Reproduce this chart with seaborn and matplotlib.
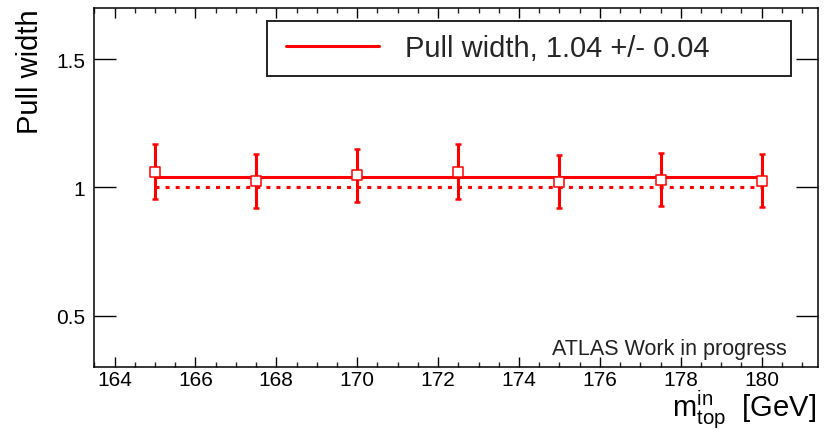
import matplotlib
matplotlib.use("Agg")
import matplotlib.pyplot as plt
from matplotlib.patches import Rectangle
from matplotlib.ticker import FixedLocator, MultipleLocator, FormatStrFormatter
import seaborn as sns
import pandas as pd

# Input top-quark masses [GeV] and fitted pull widths with uncertainties
mass_in = [165.0, 167.5, 170.0, 172.5, 175.0, 177.5, 180.0]
pull_width = [1.062, 1.025, 1.047, 1.062, 1.022, 1.031, 1.026]
pull_width_err = [0.106, 0.106, 0.105, 0.106, 0.103, 0.103, 0.104]

# Constant fit over all mass points and the ideal reference value
fit_value = 1.04
fit_error = 0.04
reference_value = 1.0

y_ticks = [0.5, 1.0, 1.5]
x_ticks = [164, 166, 168, 170, 172, 174, 176, 178, 180]

sns.set_theme(style="ticks")
plt.rcParams["font.family"] = ["Liberation Sans", "DejaVu Sans"]
plt.rcParams["mathtext.fontset"] = "custom"
plt.rcParams["mathtext.rm"] = "Liberation Sans"
plt.rcParams["mathtext.it"] = "Liberation Sans"

fig = plt.figure(figsize=(8.3, 4.31), dpi=100)
ax = fig.add_axes([0.1136, 0.1462, 0.8723, 0.8329])

df = pd.DataFrame({"mass": mass_in, "width": pull_width, "err": pull_width_err})
span = [min(mass_in), max(mass_in)]
fit_df = pd.DataFrame({"mass": span, "width": [fit_value] * 2})
ref_df = pd.DataFrame({"mass": span, "width": [reference_value] * 2})

red = "#ff0000"

sns.lineplot(data=ref_df, x="mass", y="width", ax=ax, color=red, lw=2.2,
             linestyle=(0, (1.3, 2.0)), dash_capstyle="butt", legend=False, zorder=2)
sns.lineplot(data=fit_df, x="mass", y="width", ax=ax, color=red, lw=2.2,
             legend=False, zorder=2)
fit_line = ax.lines[-1]

ax.errorbar(df["mass"], df["width"], yerr=df["err"], fmt="none", ecolor=red,
            elinewidth=2.2, capsize=2.4, capthick=1.8, zorder=3)
sns.scatterplot(data=df, x="mass", y="width", ax=ax, marker="s", s=52,
                facecolor="white", edgecolor=red, linewidth=1.1, zorder=4,
                legend=False)

ax.set_xlim(163.5, 181.4)
ax.set_ylim(0.3, 1.7)

ax.xaxis.set_major_locator(FixedLocator(x_ticks))
ax.xaxis.set_minor_locator(MultipleLocator(0.5))
ax.yaxis.set_major_locator(FixedLocator(y_ticks))
ax.yaxis.set_major_formatter(FormatStrFormatter("%g"))
ax.xaxis.set_major_formatter(FormatStrFormatter("%g"))

ax.tick_params(axis="x", which="major", direction="in", length=7.5, width=1.0,
               top=True, bottom=True, labelsize=15, pad=2.5, colors="black")
ax.tick_params(axis="x", which="minor", direction="in", length=3.8, width=1.0,
               top=True, bottom=True)
ax.tick_params(axis="y", which="major", direction="in", length=16, width=1.0,
               left=True, right=True, labelsize=15, pad=6.5, colors="black")
ax.tick_params(axis="y", which="minor", left=False, right=False)
for sp in ax.spines.values():
    sp.set_visible(True)
    sp.set_linewidth(1.1)
    sp.set_color("black")

ax.set_xlabel("")
ax.set_ylabel("")

# Axis titles, right/top aligned at the ends of the axes
fig.text(0.0361, 0.979, "Pull width", rotation=90, ha="center", va="top",
         fontsize=21, color="black")
fig.text(0.984, 0.032, r"$\mathrm{m}_{\mathrm{top}}^{\mathrm{in}}$  [GeV]",
         ha="right", va="baseline", fontsize=21, color="black")

fig.text(0.948, 0.1763, "ATLAS Work in progress", ha="right", va="baseline",
         fontsize=15.5, color="#222222")

# Legend box and entry
ax.add_patch(Rectangle((0.2385, 0.8106), 0.7238, 0.1532, transform=ax.transAxes,
                       facecolor="white", edgecolor="#222222", lw=1.4, zorder=5))
leg = ax.legend(handles=[fit_line],
                labels=[f"Pull width, {fit_value:.2f} +/- {fit_error:.2f}"],
                loc="center left", bbox_to_anchor=(0.2648, 0.8886),
                bbox_transform=ax.transAxes, frameon=False, fontsize=21,
                handlelength=3.18, handletextpad=0.91, borderpad=0,
                borderaxespad=0)
leg.set_zorder(6)

fig.savefig("out.png", dpi=100)
